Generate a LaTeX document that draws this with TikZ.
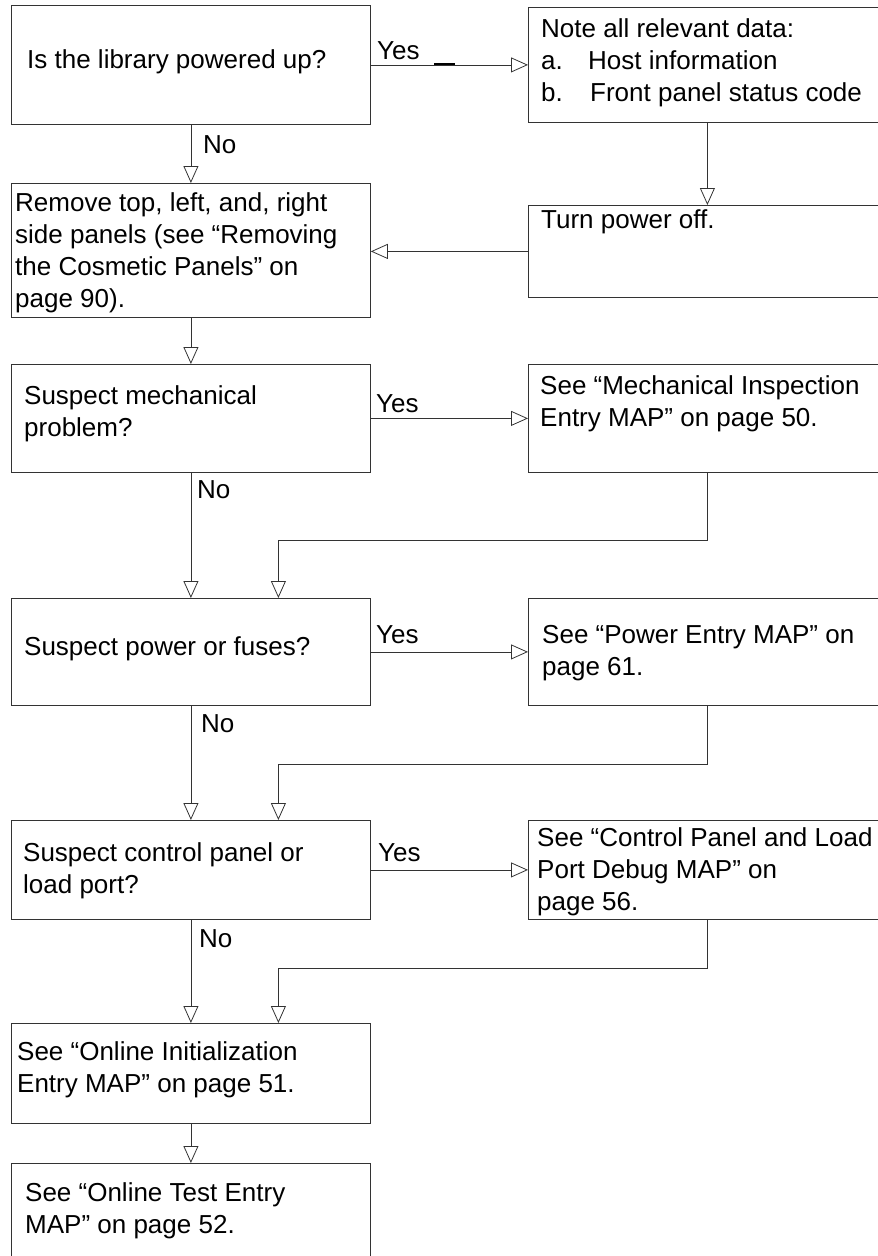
\documentclass[tikz,border=0pt]{standalone}
\usepackage{fontspec}
\setmainfont{Liberation Sans}
\usetikzlibrary{arrows.meta}

\begin{document}
\begin{tikzpicture}[x=1pt, y=-1pt,
        box/.style={draw=black!80, line width=0.8pt, inner sep=0pt, anchor=north west, minimum width=359pt},
        txt/.style={anchor=base west, inner sep=0pt, align=left, font=\fontsize{26}{31.7}\selectfont},
        flow/.style={draw=black!80, line width=0.8pt, -{Triangle[open, length=17pt, width=15pt]}},
        link/.style={draw=black!80, line width=0.8pt}]
        \useasboundingbox (0,0) rectangle (878,1256);

        % left column: questions
        \node[box, minimum height=119pt] (q1) at (11,5) {};
        \node[box, minimum height=134pt] (q2) at (11,183) {};
        \node[box, minimum height=108pt] (q3) at (11,364) {};
        \node[box, minimum height=107pt] (q4) at (11,598) {};
        \node[box, minimum height=99pt] (q5) at (11,820) {};
        \node[box, minimum height=100pt] (q6) at (11,1023) {};
        \node[box, minimum height=117pt] (q7) at (11,1163) {};

        % right column: actions
        \node[box, minimum width=358pt, minimum height=115pt] (r1) at (528,7) {};
        \node[box, minimum width=358pt, minimum height=92pt] (r2) at (528,205) {};
        \node[box, minimum width=358pt, minimum height=108pt] (r3) at (528,364) {};
        \node[box, minimum width=358pt, minimum height=107pt] (r4) at (528,598) {};
        \node[box, minimum width=358pt, minimum height=99pt] (r5) at (528,820) {};

        % texts (placed by the baseline of their last line)
        \node[txt] (tq1) at (27,68) {Is the library powered up?};
        \node[txt] (tq2) at (15,307) {Remove top, left, and, right\\side panels (see “Removing\\the Cosmetic Panels” on\\page 90).};
        \node[txt] (tq3) at (24,436) {Suspect mechanical\\problem?};
        \node[txt] (tq4) at (24,655) {Suspect power or fuses?};
        \node[txt] (tq5) at (23,893) {Suspect control panel or\\load port?};
        \node[txt] (tq6) at (17,1092) {See “Online Initialization\\Entry MAP” on page 51.};
        \node[txt] (tq7) at (25,1233) {See “Online Test Entry\\MAP” on page 52.};
        \node[txt, font=\fontsize{26}{32}\selectfont] (tr1) at (541,101) {Note all relevant data:\\\makebox[47pt][l]{a.}Host information\\\makebox[49pt][l]{b.}Front panel status code};
        \node[txt] (tr2) at (541,228) {Turn power off.};
        \node[txt] (tr3) at (540,426) {See “Mechanical Inspection\\Entry MAP” on page 50.};
        \node[txt] (tr4) at (542,675) {See “Power Entry MAP” on\\page 61.};
        \node[txt] (tr5) at (537,910) {See “Control Panel and Load\\Port Debug MAP” on\\page 56.};

        % yes / no labels
        \node[txt] (y1) at (377,59) {Yes};
        \node[txt] (y2) at (376,412) {Yes};
        \node[txt] (y3) at (376,643) {Yes};
        \node[txt] (y4) at (378,861) {Yes};
        \node[txt] (n1) at (203,153) {No};
        \node[txt] (n2) at (197,498) {No};
        \node[txt] (n3) at (201,732) {No};
        \node[txt] (n4) at (199,947) {No};

        % connectors
        \draw[flow] (q1.east) -- (q1.east -| r1.west);
        \draw[black, line width=1.6pt] (434,64) -- (455,64);
        \draw[flow] (q1.south) -- (q2.north);
        \draw[flow] (r1.south) -- (r2.north);
        \draw[flow] (r2.west) -- (r2.west -| q2.east);
        \draw[flow] (q2.south) -- (q3.north);
        \draw[flow] (q3.east) -- (q3.east -| r3.west);
        \draw[flow] (q3.south) -- (q4.north);
        \draw[flow] (r3.south) -- ++(0,68) -| ([xshift=87.5pt]q4.north);
        \draw[flow] (q4.east) -- (q4.east -| r4.west);
        \draw[flow] (q4.south) -- (q5.north);
        \draw[flow] (r4.south) -- ++(0,59) -| ([xshift=87.5pt]q5.north);
        \draw[flow] (q5.east) -- (q5.east -| r5.west);
        \draw[flow] (q5.south) -- (q6.north);
        \draw[flow] (r5.south) -- ++(0,49) -| ([xshift=87.5pt]q6.north);
        \draw[flow] (q6.south) -- (q7.north);
\end{tikzpicture}
\end{document}
